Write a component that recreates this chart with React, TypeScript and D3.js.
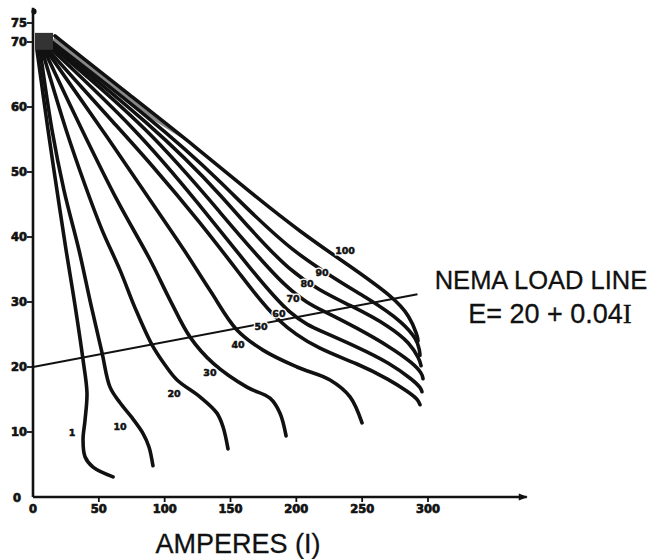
import React from "react";
import * as d3 from "d3";

type P = [number, number];

// Axis ticks
const xTicks = [0, 50, 100, 150, 200, 250, 300];
const yTicks = [0, 10, 20, 30, 40, 50, 60, 70, 75];

// Curve names (field settings)
const curveNames = ["1", "10", "20", "30", "40", "50", "60", "70", "80", "90", "100"];

// Curves: [amperes, volts]
const curve1: P[] = [[3.0, 68.8], [11.4, 56.5], [18.2, 47.2], [25.1, 38.0], [31.9, 29.5], [38.0, 21.1], [41.0, 16.0], [39.5, 11.8], [38.0, 8.8], [39.5, 6.2], [45.6, 4.6], [60.8, 3.1]];
const curve10: P[] = [[5.3, 68.8], [14.4, 56.5], [23.5, 47.2], [34.9, 38.0], [44.1, 29.5], [52.4, 22.2], [58.5, 16.9], [66.1, 14.5], [75.2, 12.2], [83.5, 9.8], [88.1, 7.7], [91.1, 4.8]];
const curve20: P[] = [[6.8, 68.8], [25.1, 56.5], [39.5, 48.0], [52.4, 41.1], [66.1, 34.9], [77.5, 29.1], [90.4, 23.4], [100.3, 20.3], [109.4, 18.0], [126.8, 15.4], [139.7, 12.9], [144.3, 10.8], [148.1, 7.4]];
const curve30: P[] = [[8.4, 68.8], [37.2, 56.5], [63.8, 45.7], [88.9, 36.5], [104.1, 30.3], [119.3, 24.6], [136.7, 20.6], [162.5, 16.9], [180.0, 15.2], [187.6, 12.9], [192.2, 9.4]];
const curve40: P[] = [[9.9, 68.8], [52.4, 56.5], [88.9, 45.7], [114.7, 38.0], [134.4, 31.8], [154.9, 25.7], [174.7, 22.6], [200.5, 20.0], [225.6, 18.0], [240.8, 15.4], [249.9, 11.4]];
const curve50: P[] = [[11.4, 68.8], [66.1, 56.5], [88.9, 51.4], [126.8, 42.3], [157.2, 34.3], [185.3, 26.8], [218.0, 22.6], [246.1, 20.6], [271.1, 18.0], [284.8, 16.2], [292.4, 15.0], [293.9, 14.2]];
const curve60: P[] = [[12.9, 69.1], [79.0, 56.5], [126.8, 44.9], [164.8, 35.2], [196.7, 27.5], [220.3, 25.4], [246.1, 23.1], [271.1, 20.6], [288.6, 18.0], [294.5, 16.8], [295.4, 16.2]];
const curve70: P[] = [[13.7, 69.4], [88.9, 56.5], [142.0, 43.8], [195.2, 31.1], [221.8, 28.5], [246.1, 26.0], [271.1, 23.1], [288.6, 20.6], [295.5, 19.0], [296.2, 18.2]];
const curve80: P[] = [[14.4, 69.7], [88.9, 57.4], [142.0, 46.9], [195.2, 33.8], [244.6, 29.2], [271.1, 26.2], [286.3, 23.7], [293.5, 21.2], [294.7, 20.2]];
const curve90: P[] = [[14.4, 70.0], [88.9, 58.3], [142.0, 48.8], [195.2, 37.5], [259.7, 30.0], [281.0, 26.8], [291.7, 24.2], [293.6, 22.6], [293.9, 21.8]];
const curve100: P[] = [[16.7, 71.6], [73.7, 61.8], [124.6, 53.7], [164.8, 46.9], [202.8, 40.8], [240.8, 35.5], [273.4, 30.8], [286.3, 27.8], [291.7, 24.9], [292.3, 24.3], [292.4, 24.0]];

const curves = [curve1, curve10, curve20, curve30, curve40, curve50, curve60, curve70, curve80, curve90, curve100];

// Where each curve's label sits, [amperes, volts]
const labelAt: P[] = [[29.6, 10.0], [66.1, 10.8], [107.1, 16.0], [134.4, 19.2], [155.7, 23.4], [173.2, 26.3], [186.8, 28.3], [197.5, 30.6], [208.1, 32.8], [219.5, 34.6], [237.0, 38.0]];

// NEMA load line E = 20 + 0.04 I, as drawn
const loadLine: P[] = [[0, 20], [292, 31.2]];

// Dark smudge where the curves meet at the top: [amps0, amps1, volts0, volts1]
const topBox = [1.5, 15.2, 68.8, 72.4];

export default function App() {
  const x = d3.scaleLinear().domain([0, 300]).range([33, 428]);
  const y = d3.scaleLinear().domain([0, 70, 75]).range([497, 42, 23]);
  const lineLow = d3
    .line<P>()
    .x((d) => x(d[0]))
    .y((d) => y(d[1]))
    .curve(d3.curveCatmullRom.alpha(0.5));
  const lineHigh = d3
    .line<P>()
    .x((d) => x(d[0]))
    .y((d) => y(d[1]))
    .curve(d3.curveBasis);
  const straight = d3
    .line<P>()
    .x((d) => x(d[0]))
    .y((d) => y(d[1]));

  const band: P[] = [curve100[0], curve100[1], curve100[2], curve90[1], curve90[0]];

  const x0 = x(0);
  const y0 = y(0);
  const tickFont = "'DejaVu Sans', sans-serif";

  return (
    <svg
      width={660}
      height={559}
      style={{ position: "absolute", left: 0, top: 0, background: "#fff" }}
    >
      <rect x={0} y={0} width={660} height={559} fill="#fff" />

      {/* grey shading along the upper curves */}
      <path d={straight(band) + "Z"} fill="#6a6a6a" opacity={0.8} />

      {/* curves */}
      {curves.map((c, i) => (
        <path
          key={curveNames[i]}
          d={(i < 5 ? lineLow(c) : lineHigh(c)) || ""}
          fill="none"
          stroke="#111"
          strokeWidth={3.6}
          strokeLinecap="round"
          strokeLinejoin="round"
        />
      ))}

      {/* dark box at the top */}
      <rect
        x={x(topBox[0])}
        y={y(topBox[3])}
        width={x(topBox[1]) - x(topBox[0])}
        height={y(topBox[2]) - y(topBox[3])}
        fill="#333"
      />

      {/* load line */}
      <path d={straight(loadLine) || ""} stroke="#111" strokeWidth={2} fill="none" />

      {/* axes */}
      <line x1={x0} y1={y0} x2={x(375)} y2={y0} stroke="#111" strokeWidth={2.6} />
      <polygon
        points={`${x(375) - 8},${y0 - 3.5} ${x(375) + 1},${y0} ${x(375) - 8},${y0 + 3.5}`}
        fill="#111"
      />
      <line x1={x0} y1={y0} x2={x0} y2={y(79)} stroke="#111" strokeWidth={2.6} />
      <ellipse cx={x0 + 1} cy={y(78)} rx={2.6} ry={3} fill="#111" />

      {/* x ticks */}
      {xTicks.map((t) => (
        <g key={"x" + t}>
          {t > 0 && <line x1={x(t)} x2={x(t)} y1={y0} y2={y0 + 5} stroke="#111" strokeWidth={1.8} />}
          <text
            x={x(t)}
            y={y0 + 16}
            textAnchor="middle"
            fontFamily={tickFont}
            fontWeight="bold"
            fontSize={11.5}
            fill="#111"
            stroke="#111"
            strokeWidth={0.7}
          >
            {t}
          </text>
        </g>
      ))}

      {/* y ticks */}
      {yTicks.map((t) => (
        <g key={"y" + t}>
          {t > 0 && <line x1={x0 - 6} x2={x0} y1={y(t)} y2={y(t)} stroke="#111" strokeWidth={1.8} />}
          <text
            x={t === 0 ? x0 - 12 : x0 - 6}
            y={y(t) + (t === 0 ? 1 : 0)}
            textAnchor="end"
            dominantBaseline="central"
            fontFamily={tickFont}
            fontWeight="bold"
            fontSize={11.5}
            fill="#111"
            stroke="#111"
            strokeWidth={0.7}
          >
            {t}
          </text>
        </g>
      ))}

      {/* curve labels */}
      {labelAt.map((p, i) => (
        <g key={"l" + i}>
          <text
            x={x(p[0])}
            y={y(p[1])}
            textAnchor="middle"
            dominantBaseline="central"
            fontFamily={tickFont}
            fontWeight="bold"
            fontSize={9.5}
            fill="#fff"
            stroke="#fff"
            strokeWidth={3}
          >
            {curveNames[i]}
          </text>
          <text
            x={x(p[0])}
            y={y(p[1])}
            textAnchor="middle"
            dominantBaseline="central"
            fontFamily={tickFont}
            fontWeight="bold"
            fontSize={9.5}
            fill="#111"
            stroke="#111"
            strokeWidth={0.5}
          >
            {curveNames[i]}
          </text>
        </g>
      ))}

      {/* annotation */}
      <text
        x={541}
        y={289}
        textAnchor="middle"
        fontFamily="'Liberation Sans', Arial, sans-serif"
        fontSize={25.5}
        fill="#111"
        stroke="#111"
        strokeWidth={0.3}
      >
        NEMA LOAD LINE
      </text>
      <text
        x={550}
        y={323}
        textAnchor="middle"
        fontFamily="'Liberation Sans', Arial, sans-serif"
        fontSize={27}
        fill="#111"
        stroke="#111"
        strokeWidth={0.3}
      >
        E= 20 + 0.04
        <tspan fontFamily="'Liberation Serif', 'Times New Roman', serif">I</tspan>
      </text>

      {/* axis title */}
      <text
        x={238}
        y={553}
        textAnchor="middle"
        fontFamily="'Liberation Sans', Arial, sans-serif"
        fontSize={27}
        fill="#111"
        stroke="#111"
        strokeWidth={0.3}
      >
        AMPERES (I)
      </text>
    </svg>
  );
}
